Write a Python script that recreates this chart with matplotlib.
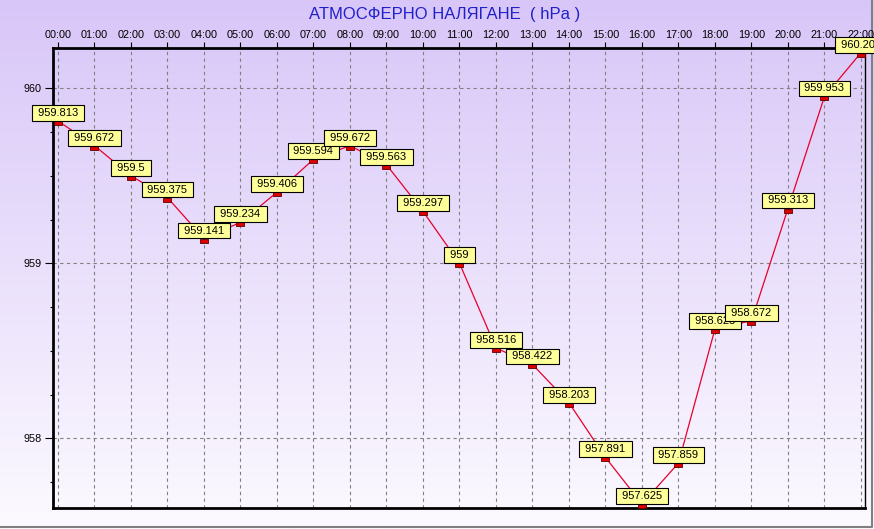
import numpy as np
import matplotlib
matplotlib.use("Agg")
import matplotlib.pyplot as plt
from matplotlib.path import Path
from matplotlib.ticker import MultipleLocator

plt.rcParams['font.family'] = ['Liberation Sans', 'DejaVu Sans']

## Data
hours = ["00:00", "01:00", "02:00", "03:00", "04:00", "05:00", "06:00", "07:00",
         "08:00", "09:00", "10:00", "11:00", "12:00", "13:00", "14:00", "15:00",
         "16:00", "17:00", "18:00", "19:00", "20:00", "21:00", "22:00"]
pressure = [959.813, 959.672, 959.5, 959.375, 959.141, 959.234, 959.406, 959.594,
            959.672, 959.563, 959.297, 959.0, 958.516, 958.422, 958.203, 957.891,
            957.625, 957.859, 958.625, 958.672, 959.313, 959.953, 960.203]
labels = ["959.813", "959.672", "959.5", "959.375", "959.141", "959.234", "959.406",
          "959.594", "959.672", "959.563", "959.297", "959", "958.516", "958.422",
          "958.203", "957.891", "957.625", "957.859", "958.625", "958.672",
          "959.313", "959.953", "960.203"]
title = "АТМОСФЕРНО НАЛЯГАНЕ  ( hPa )"

fig = plt.figure(figsize=(8.74, 5.29), dpi=100)

## Background gradient over the whole figure
bg = fig.add_axes([0, 0, 1, 1], zorder=-10)
top = np.array([216, 198, 248]) / 255.0
bot = np.array([252, 250, 255]) / 255.0
t = np.linspace(0, 1, 256)[:, None]
grad = (top * (1 - t) + bot * t)[:, None, :]
bg.imshow(grad, aspect='auto', extent=[0, 1, 0, 1], origin='upper')
bg.set_xlim(0, 1)
bg.set_ylim(0, 1)
bg.axis('off')
# panel edge (right/bottom)
bg.plot([0, 0.9975, 0.9975], [0.003, 0.003, 1], color='#808080', lw=1.5,
        solid_capstyle='butt')

ax = fig.add_axes([53 / 874, 21 / 529, 812 / 874, 460 / 529])
ax.patch.set_alpha(0)

x = np.arange(len(hours))
# small red block hanging just below each value
rect = Path([(-1, -1), (1, -1), (1, 0), (-1, 0), (-1, -1)],
            [Path.MOVETO, Path.LINETO, Path.LINETO, Path.LINETO, Path.CLOSEPOLY])
ax.plot(x, pressure, color='#e8002a', lw=0.9, zorder=3)
ax.plot(x, pressure, linestyle='none', marker=rect, markersize=6,
        markerfacecolor='#dd0000', markeredgecolor='#600000',
        markeredgewidth=0.6, zorder=4)

for i, (xi, yi, s) in enumerate(zip(x, pressure, labels)):
    ax.annotate(" " + s + " ", (xi, yi), xytext=(0, 2.2), textcoords='offset points',
                ha='center', va='bottom', fontsize=8, color='black',
                bbox=dict(boxstyle='square,pad=0.26', fc='#ffff99', ec='black', lw=0.8),
                annotation_clip=False, zorder=5 + i)

ax.set_xlim(-0.137, 22.11)
ax.set_ylim(957.602, 960.23)

ax.set_xticks(x)
ax.set_xticklabels(hours)
ax.xaxis.tick_top()
ax.tick_params(axis='x', which='major', length=4, pad=2, labelsize=7.8, width=0.8)
ax.set_yticks([958, 959, 960])
ax.set_yticklabels(["958", "959", "960"])
ax.yaxis.set_minor_locator(MultipleLocator(0.25))
ax.tick_params(axis='y', which='major', length=6, pad=2, labelsize=7.8, width=0.8)
ax.tick_params(axis='y', which='minor', length=2, width=0.8)

ax.grid(True, which='major', color='#808080', linestyle=(0, (3, 3)), lw=0.8)

for side in ['top', 'left', 'bottom']:
    ax.spines[side].set_linewidth(2)
    ax.spines[side].set_color('black')
ax.spines['right'].set_linewidth(1)
ax.spines['right'].set_color('black')

fig.text(445 / 874, 1 - 15 / 529, title, ha='center', va='center',
         fontsize=12, color='#2020c8')

fig.savefig('out.png', dpi=100)
